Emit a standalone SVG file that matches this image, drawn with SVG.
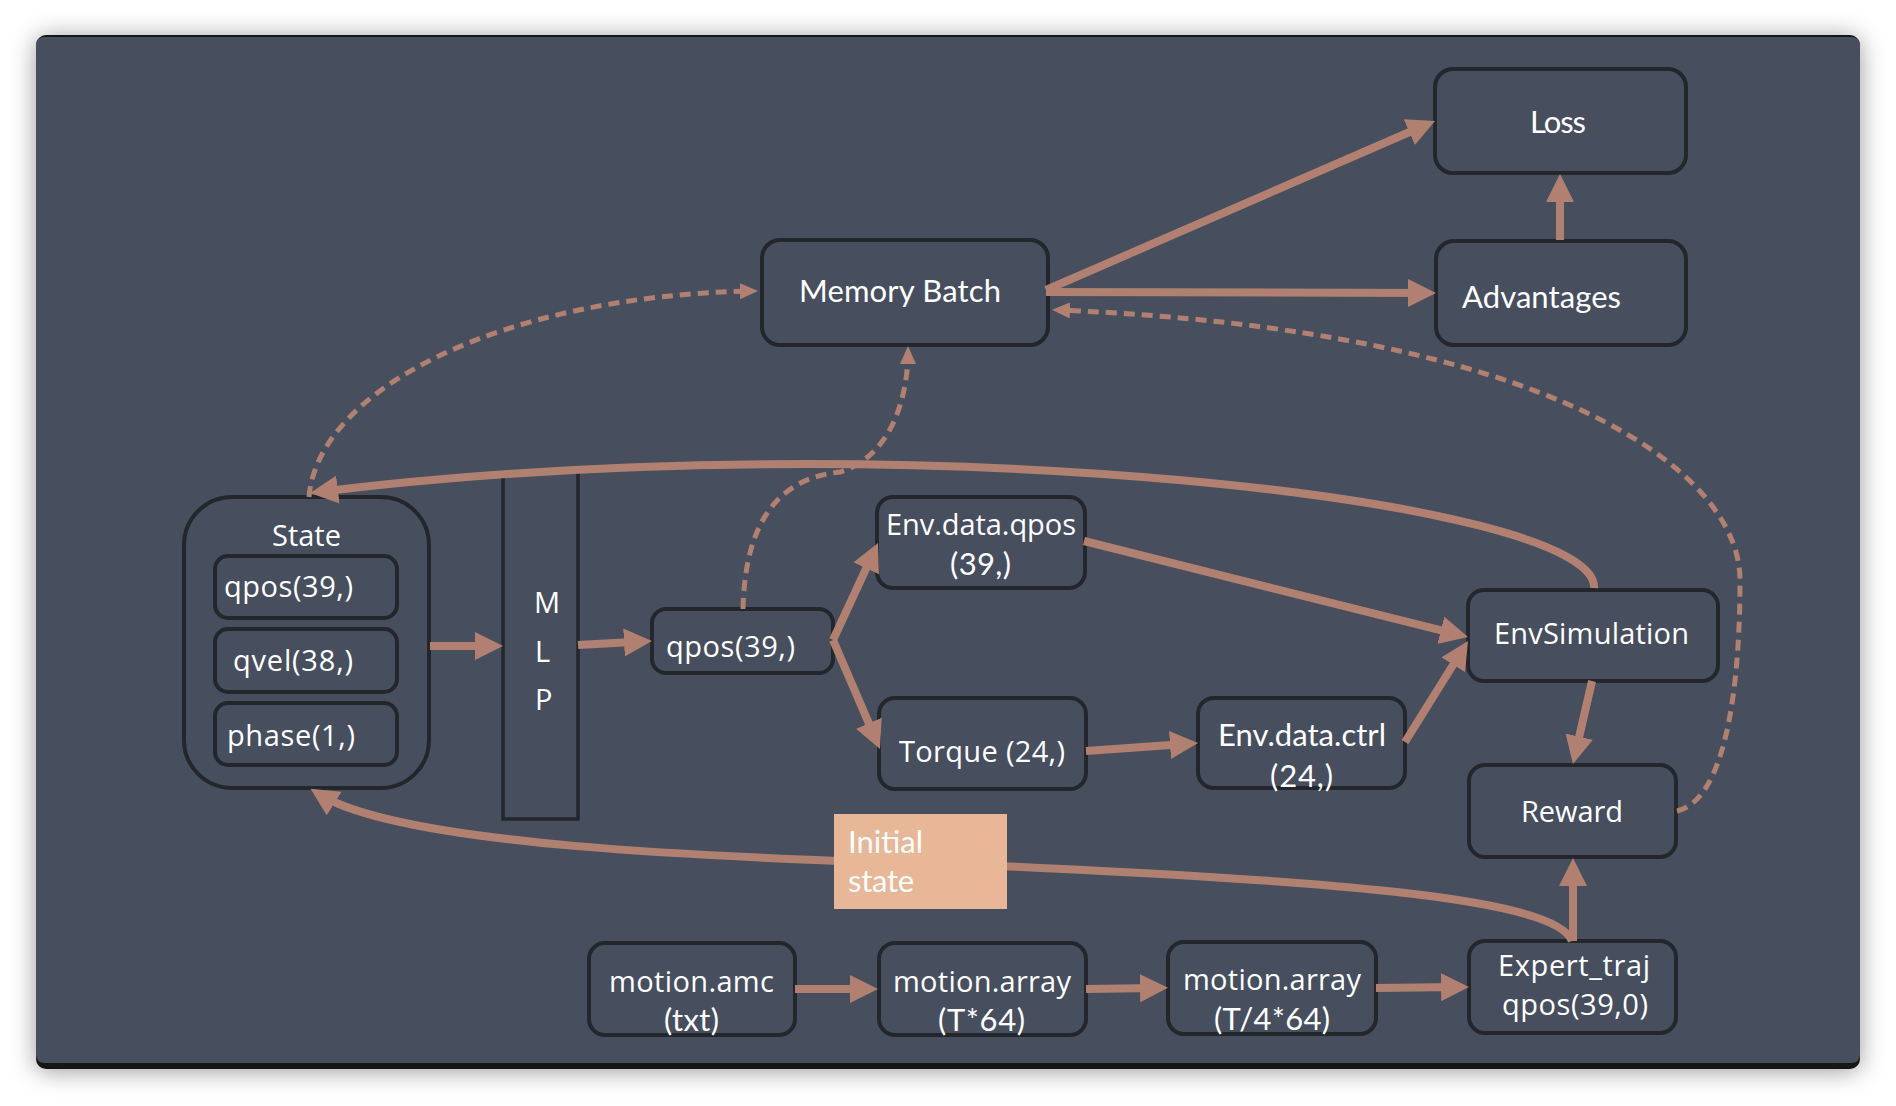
<svg xmlns="http://www.w3.org/2000/svg" width="1896" height="1106" viewBox="0 0 1896 1106">
<defs>
<filter id="shadow" x="-10%" y="-10%" width="120%" height="120%"><feDropShadow dx="0" dy="2" stdDeviation="12" flood-color="#000" flood-opacity="0.4"/></filter>
<marker id="ah" markerUnits="userSpaceOnUse" markerWidth="28" markerHeight="28" viewBox="0 0 28 28" refX="18" refY="14" orient="auto"><path d="M0,0 L28,14 L0,28 z" fill="#b28070"/></marker>
<marker id="ahd" markerUnits="userSpaceOnUse" markerWidth="18" markerHeight="16" viewBox="0 0 18 16" refX="12" refY="8" orient="auto"><path d="M0,0 L18,8 L0,16 z" fill="#b28070"/></marker>
</defs>
<style>
.node{fill:#474f5e;stroke:#23272c;stroke-width:4}
.t{font-family:"Open Sans","Noto Sans",sans-serif;font-size:29px;fill:#ffffff}
.c{font-family:Lato,"Open Sans",sans-serif;font-size:31px;fill:#ffffff}
.e{fill:none;stroke:#b28070;stroke-width:8;marker-end:url(#ah)}
.d{fill:none;stroke:#b28070;stroke-width:5;stroke-dasharray:11 7;marker-end:url(#ahd)}
</style>
<rect width="1896" height="1106" fill="#ffffff"/>
<rect x="36" y="35" width="1824" height="1034" rx="10" fill="#151618" filter="url(#shadow)"/>
<rect x="36" y="37" width="1824" height="1026" rx="8" fill="#474f5e"/>

<g id="node-loss"><rect class="node" x="1435" y="69" width="251" height="104" rx="18"/><text class="c" x="1530" y="133" textLength="56">Loss</text></g>
<g id="node-advantages"><rect class="node" x="1436" y="241" width="250" height="104" rx="18"/><text class="c" x="1462" y="308" textLength="159">Advantages</text></g>
<g id="node-memory-batch"><rect class="node" x="762" y="240" width="286" height="105" rx="18"/><text class="c" x="799" y="302" textLength="202">Memory Batch</text></g>
<g id="node-state">
<rect class="node" x="184" y="497" width="245" height="291" rx="48"/>
<text class="t" x="272" y="546" textLength="69">State</text>
<rect class="node" x="215" y="556" width="182" height="62" rx="13"/><text class="t" x="224" y="597" textLength="129">qpos(39,)</text>
<rect class="node" x="215" y="629" width="182" height="63" rx="13"/><text class="t" x="233" y="671" textLength="120">qvel(38,)</text>
<rect class="node" x="215" y="703" width="182" height="62" rx="13"/><text class="t" x="227" y="746" textLength="128">phase(1,)</text>
</g>
<g id="node-mlp"><rect class="node" x="503" y="472" width="75" height="347" style="stroke-width:3.5"/><text class="t" x="534" y="613">M</text><text class="t" x="535" y="662">L</text><text class="t" x="535" y="710">P</text></g>
<g id="node-qpos"><rect class="node" x="652" y="609" width="181" height="64" rx="14"/><text class="t" x="666" y="657" textLength="129">qpos(39,)</text></g>
<g id="node-env-data-qpos"><rect class="node" x="877" y="497" width="208" height="91" rx="16"/><text class="t" x="886" y="535" textLength="190">Env.data.qpos</text><text class="c" x="950" y="575" textLength="61">(39,)</text></g>
<g id="node-torque"><rect class="node" x="879" y="698" width="207" height="91" rx="16"/><text class="t" x="899" y="762" textLength="166">Torque (24,)</text></g>
<g id="node-env-data-ctrl"><rect class="node" x="1198" y="698" width="207" height="90" rx="16"/><text class="c" x="1218" y="746" textLength="168">Env.data.ctrl</text><text class="c" x="1270" y="787" textLength="63">(24,)</text></g>
<g id="node-envsimulation"><rect class="node" x="1468" y="590" width="250" height="91" rx="16"/><text class="t" x="1494" y="644" textLength="195">EnvSimulation</text></g>
<g id="node-reward"><rect class="node" x="1469" y="765" width="207" height="92" rx="16"/><text class="t" x="1521" y="822" textLength="102">Reward</text></g>
<g id="node-expert-traj"><rect class="node" x="1469" y="941" width="207" height="92" rx="16"/><text class="t" x="1498" y="976" textLength="152">Expert_traj</text><text class="t" x="1502" y="1015" textLength="146">qpos(39,0)</text></g>
<g id="node-motion-amc"><rect class="node" x="589" y="943" width="206" height="92" rx="16"/><text class="t" x="609" y="992" textLength="165">motion.amc</text><text class="c" x="664" y="1031" textLength="55">(txt)</text></g>
<g id="node-motion-array"><rect class="node" x="879" y="943" width="207" height="92" rx="16"/><text class="t" x="893" y="992" textLength="178">motion.array</text><text class="c" x="938" y="1031" textLength="87">(T*64)</text></g>
<g id="node-motion-array-4"><rect class="node" x="1168" y="942" width="208" height="92" rx="16"/><text class="t" x="1183" y="990" textLength="178">motion.array</text><text class="c" x="1214" y="1030" textLength="116">(T/4*64)</text></g>

<g id="connectors">
<path class="e" d="M430,646 L493,646"/>
<path class="e" d="M578,645 L642,641.5"/>
<path class="e" d="M833,640 L873.8,552"/>
<path class="e" d="M833,640 L876,739.8"/>
<path class="e" d="M1086,751 L1188,743.7"/>
<path class="e" d="M1084,541 L1458.3,634.6"/>
<path class="e" d="M1405,742 L1462.7,649.5"/>
<path class="e" d="M1592,681 L1575.2,754.2"/>
<path class="e" d="M1573,941 L1573,868"/>
<path class="e" d="M1046,290 L1425.8,125"/>
<path class="e" d="M1046,292 L1426,293"/>
<path class="e" d="M1560,240 L1560,184"/>
<path class="e" d="M795,989 L868,989"/>
<path class="e" d="M1086,989 L1158,988"/>
<path class="e" d="M1376,988 L1459,987"/>
<path class="e" d="M1594,588 C1600,500 905,420 320,491.8"/>
<path class="e" d="M1572,941 C1555,895 1300,880 1000,866 C700,858 400,845 319,794"/>
<path class="d" d="M309,497 C318,390 500,296 752,291"/>
<path class="d" d="M743,609 C745,520 780,478 840,472 C895,455 908,390 908,352"/>
<path class="d" d="M1677,811 C1725,800 1740,690 1740,580 C1740,470 1550,330 1058,310"/>
</g>

<g id="label-initial-state"><rect x="834" y="814" width="173" height="95" fill="#e8b797"/><text class="c" x="848" y="853" textLength="75">Initial</text><text class="c" x="848" y="892" textLength="66">state</text></g>
</svg>
